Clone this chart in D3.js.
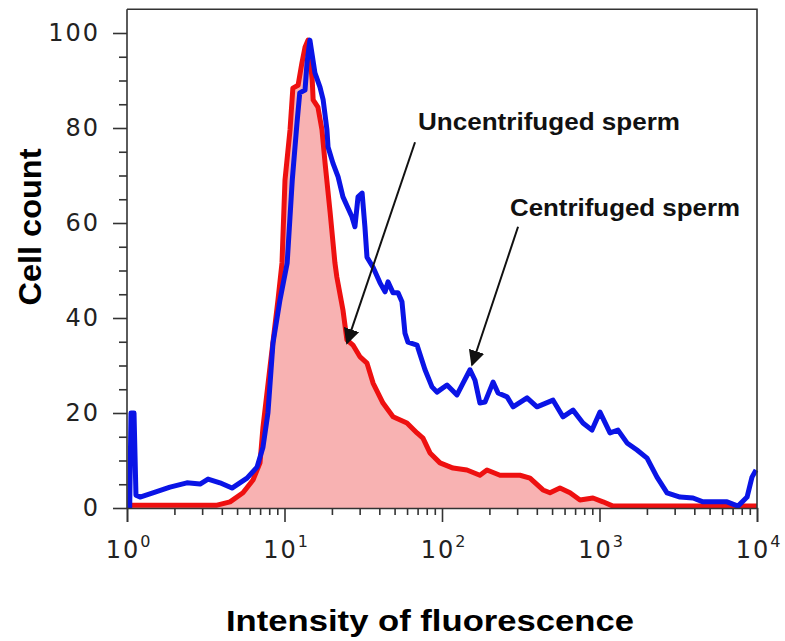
<!DOCTYPE html>
<html>
<head>
<meta charset="utf-8">
<script src="https://cdn.jsdelivr.net/npm/d3@7"></script>
<style>
  html, body { margin: 0; padding: 0; background: #fff; }
  svg { display: block; }
</style>
</head>
<body>
<div id="chart"></div>
<script>
// Centrifuged sperm (blue outline)
var blueIntensity = [1.04, 1.06, 1.108, 1.14, 1.21, 1.46, 1.875, 2.40, 2.91, 3.27, 3.89, 4.64, 5.78, 6.69, 7.30, 7.85, 8.45,
  9.36, 10.4, 11.2, 12.0, 12.5, 13.5, 13.9, 14.5, 15.6, 16.8, 17.6, 18.6, 18.9, 20.3, 21.9, 23.5, 26.8, 28.0, 29.3, 31.1,
  32.4, 33.4, 36.5, 40.4, 43.5, 45.4, 48.9, 52.6, 55.7, 58.2, 60.8, 69.4, 78.0, 86.4, 92.9, 107.6, 124.5, 136, 150.6, 162,
  174, 187.5, 211, 227, 259, 282.6, 346.7, 401, 507, 586, 679, 785, 896, 1007, 1166, 1310, 1495, 1730, 2004, 2317, 2684,
  3245, 3925, 4540, 6457, 7570, 8650, 9294, 9860];
var blueCount = [0, 20, 20, 2.7, 2.3, 3.2, 4.4, 5.3, 5.05, 6.1, 5.3, 4.2, 6.3, 8.6, 12.8, 20, 34.7,
  43.8, 51.6, 69, 81, 87.4, 88, 93.7, 98.5, 91.6, 88.6, 85.9, 79.6, 76, 72.6, 69.7, 65.5, 61.3, 59.2, 65.5, 66.3,
  59.2, 52.8, 50.7, 47.4, 45.5, 47.6, 45.3, 45.3, 43.4, 36.8, 34.9, 34.3, 29.1, 25.5, 24.4, 25.9, 23.8, 26.3, 29.1, 26.9,
  22.1, 22.3, 26.5, 24.2, 23.4, 21.3, 23.2, 21.3, 22.7, 19.2, 20.6, 17.9, 16.4, 20.2, 15.8, 16.4, 13.7, 12.2, 10.5, 6.5, 3.2,
  2.3, 2.1, 1.3, 1.3, 0.4, 2.3, 6.5, 8.0];

// Uncentrifuged sperm (red, filled)
var redIntensity = [1.06, 3.73, 4.51, 5.45, 6.31, 6.99, 7.30, 8.09, 9.09, 9.64, 10.07, 10.84, 11.3, 12.2, 12.9, 13.5, 14.1,
  15.0, 15.2, 16.3, 17.3, 18.1, 19.5, 20.9, 21.5, 23.5, 24.9, 27.2, 30.2, 33.4, 36.5, 42.2, 48.9, 59.9, 69.4, 75.7, 83.9,
  97.1, 117.5, 144, 174, 193, 233.5, 312.7, 362, 437.6, 485, 561, 650, 752, 909, 1052, 1218, 10000];
var redCount = [0.6, 0.6, 1.3, 3.2, 5.9, 9.5, 17, 29.7, 43.8, 51.6, 69, 79.6, 88.4, 89, 93.7, 97, 98.5,
  90.1, 85.9, 84.4, 79.6, 72.6, 62.1, 51.6, 48.6, 41.7, 35.4, 34.3, 31.8, 30.5, 26.3, 22.1, 19.2, 17.9, 15.8, 14.7, 11.6,
  9.5, 8.4, 8.0, 6.9, 8.0, 6.9, 6.9, 6.3, 3.8, 3.2, 4.2, 3.2, 1.7, 2.1, 1.3, 0.4, 0.4];

var yMajorTicks = [0, 20, 40, 60, 80, 100];
var xDecades = [1, 10, 100, 1000, 10000];

// arrow start / end in data units [intensity, count]
var annotations = [
  { label: "Uncentrifuged sperm", from: [67.4, 77], to: [24.9, 34.7] },
  { label: "Centrifuged sperm", from: [304, 59.2], to: [155, 30.1] }
];

var width = 785, height = 641;
var svg = d3.select("#chart").append("svg")
  .attr("width", width)
  .attr("height", height);

var x = d3.scaleLog().domain([1, 10000]).range([127, 757]);
var y = d3.scaleLinear().domain([0, 100]).range([508, 33]);
var yTop = y(105);

var blue = blueIntensity.map(function(v, i) { return [v, blueCount[i]]; });
var red = redIntensity.map(function(v, i) { return [v, redCount[i]]; });

var line = d3.line()
  .x(function(d) { return x(d[0]); })
  .y(function(d) { return y(d[1]); });

var area = d3.area()
  .x(function(d) { return x(d[0]); })
  .y0(y(0))
  .y1(function(d) { return y(d[1]); });

// red fill + line, then blue line on top
svg.append("path")
  .datum(red)
  .attr("fill", "#f8b2b2")
  .attr("d", area);

svg.append("path")
  .datum(red)
  .attr("fill", "none")
  .attr("stroke", "#ee1010")
  .attr("stroke-width", 5)
  .attr("stroke-linejoin", "round")
  .attr("d", line);

svg.append("path")
  .datum(blue)
  .attr("fill", "none")
  .attr("stroke", "#0a14e6")
  .attr("stroke-width", 5)
  .attr("stroke-linejoin", "round")
  .attr("d", line);

// frame: top and right borders
svg.append("path")
  .attr("d", "M" + x(1) + "," + yTop + "H" + x(10000) + "V" + y(0))
  .attr("fill", "none")
  .attr("stroke", "#333")
  .attr("stroke-width", 1.6);

// y axis
var yMinor = d3.range(0, 101, 5).filter(function(v) { return v % 20 !== 0; });
svg.append("g")
  .attr("transform", "translate(" + x(1) + ",0)")
  .call(d3.axisLeft(y).tickValues(yMinor).tickSize(8).tickFormat(""))
  .call(function(g) { g.select(".domain").remove(); });

var yAxis = svg.append("g")
  .attr("transform", "translate(" + x(1) + ",0)")
  .call(d3.axisLeft(y).tickValues(yMajorTicks).tickSize(14).tickPadding(13));
yAxis.select(".domain").attr("d", "M0," + yTop + "V" + y(0));

// x axis
var xMinor = [];
[1, 10, 100, 1000].forEach(function(d) {
  for (var k = 2; k <= 9; k++) xMinor.push(d * k);
});
svg.append("g")
  .attr("transform", "translate(0," + y(0) + ")")
  .call(d3.axisBottom(x).tickValues(xMinor).tickSize(7).tickFormat(""))
  .call(function(g) { g.select(".domain").remove(); });

var xAxis = svg.append("g")
  .attr("transform", "translate(0," + y(0) + ")")
  .call(d3.axisBottom(x).tickValues(xDecades).tickSize(14).tickFormat(""));

svg.selectAll(".tick line, .domain")
  .attr("stroke", "#333")
  .attr("stroke-width", 1.6);

yAxis.selectAll(".tick text")
  .attr("font-family", "DejaVu Sans, sans-serif")
  .attr("font-size", 24)
  .attr("letter-spacing", 2)
  .attr("fill", "#222");

// decade labels 10^n
xDecades.forEach(function(d, i) {
  var t = svg.append("text")
    .attr("x", x(d) + 2)
    .attr("y", 558)
    .attr("text-anchor", "middle")
    .attr("font-family", "DejaVu Sans, sans-serif")
    .attr("font-size", 24)
    .attr("letter-spacing", 2)
    .attr("fill", "#222");
  t.append("tspan").text("10");
  t.append("tspan")
    .attr("dy", -11)
    .attr("font-size", 16)
    .text(String(i));
});

// axis titles
svg.append("text")
  .attr("x", 430)
  .attr("y", 631)
  .attr("text-anchor", "middle")
  .attr("font-family", "Liberation Sans, Arial, sans-serif")
  .attr("font-weight", "bold")
  .attr("font-size", 30)
  .attr("textLength", 408)
  .attr("lengthAdjust", "spacingAndGlyphs")
  .text("Intensity of fluorescence");

svg.append("text")
  .attr("transform", "translate(41,227) rotate(-90)")
  .attr("text-anchor", "middle")
  .attr("font-family", "Liberation Sans, Arial, sans-serif")
  .attr("font-weight", "bold")
  .attr("font-size", 31)
  .attr("textLength", 157)
  .attr("lengthAdjust", "spacingAndGlyphs")
  .text("Cell count");

// annotations with arrows
svg.append("defs").append("marker")
  .attr("id", "arrow")
  .attr("viewBox", "0 0 10 10")
  .attr("refX", 9)
  .attr("refY", 5)
  .attr("markerWidth", 8)
  .attr("markerHeight", 8)
  .attr("orient", "auto")
  .append("path")
  .attr("d", "M0,0L10,5L0,10z")
  .attr("fill", "#111");

annotations.forEach(function(a) {
  svg.append("line")
    .attr("x1", x(a.from[0])).attr("y1", y(a.from[1]))
    .attr("x2", x(a.to[0])).attr("y2", y(a.to[1]))
    .attr("stroke", "#111")
    .attr("stroke-width", 2)
    .attr("marker-end", "url(#arrow)");
});

svg.append("text")
  .attr("x", 418)
  .attr("y", 130)
  .attr("font-family", "Liberation Sans, Arial, sans-serif")
  .attr("font-weight", "bold")
  .attr("font-size", 23)
  .attr("textLength", 262)
  .attr("lengthAdjust", "spacingAndGlyphs")
  .attr("fill", "#111")
  .text(annotations[0].label);

svg.append("text")
  .attr("x", 510)
  .attr("y", 216)
  .attr("font-family", "Liberation Sans, Arial, sans-serif")
  .attr("font-weight", "bold")
  .attr("font-size", 23)
  .attr("textLength", 230)
  .attr("lengthAdjust", "spacingAndGlyphs")
  .attr("fill", "#111")
  .text(annotations[1].label);
</script>
</body>
</html>
